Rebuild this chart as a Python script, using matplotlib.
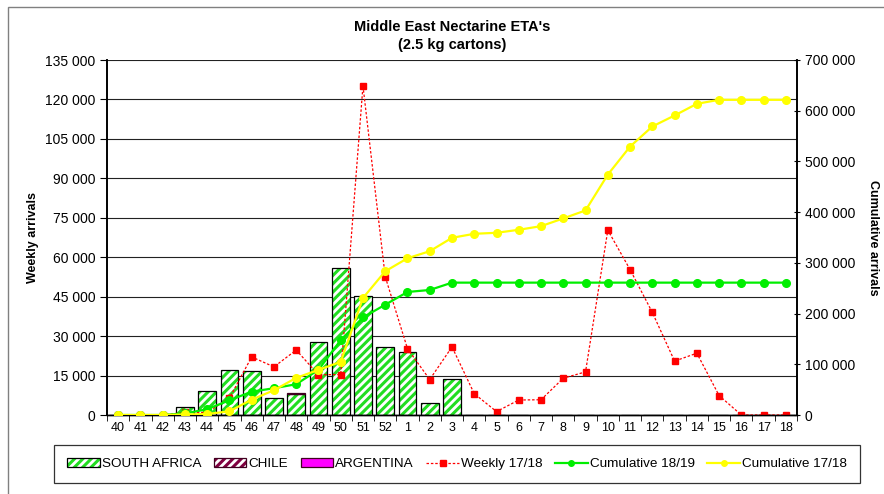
import numpy as np
import matplotlib.pyplot as plt
from matplotlib.patches import Patch, Rectangle
from matplotlib.lines import Line2D
from matplotlib.ticker import FuncFormatter, FixedLocator
from matplotlib.legend_handler import HandlerTuple

plt.rcParams['font.family'] = ['Liberation Sans', 'DejaVu Sans']
plt.rcParams['hatch.linewidth'] = 2.2

# Week numbers on the x axis
weeks = ["40", "41", "42", "43", "44", "45", "46", "47", "48", "49", "50", "51", "52",
         "1", "2", "3", "4", "5", "6", "7", "8", "9", "10", "11", "12", "13", "14",
         "15", "16", "17", "18"]

# Weekly arrivals per origin (left axis)
south_africa = [0, 0, 0, 3000, 9000, 17000, 16800, 6600, 8100, 27700, 56000, 45400, 25700,
                23900, 4500, 13600, 0, 0, 0, 0, 0, 0, 0, 0, 0, 0, 0, 0, 0, 0, 0]
chile = [0, 0, 0, 0, 0, 0, 0, 0, 300, 0, 0, 0, 0,
         0, 0, 0, 0, 0, 0, 0, 0, 0, 0, 0, 0, 0, 0, 0, 0, 0, 0]
argentina = [0] * 31

# Weekly 17/18 (left axis)
weekly_1718 = [0, 0, 0, 1000, 1000, 6400, 22100, 18300, 24700, 15300, 15400, 125200, 52600,
               25200, 13500, 25900, 8100, 1300, 5700, 5800, 14000, 16400, 70300, 55300,
               39000, 20500, 23500, 7400, 0, 0, 0]

# Cumulative series (right axis)
cum_1819 = [0, 0, 0, 3000, 11500, 29000, 46000, 52800, 60700, 89000, 147700, 192400, 217500,
            242600, 246500, 261000, 261000, 261000, 261000, 261000, 261000, 261000, 261000,
            261000, 261000, 261000, 261000, 261000, 261000, 261000, 261000]
cum_1718 = [0, 0, 0, 1000, 2000, 7300, 30300, 48800, 73200, 89000, 104800, 230700, 283400,
            309100, 323000, 349400, 357300, 359300, 365200, 372400, 387600, 403400, 474000,
            529300, 568900, 590600, 613600, 621500, 621500, 621500, 621500]

x = np.arange(len(weeks))
fmt = FuncFormatter(lambda v, p: "{:,}".format(int(v)).replace(",", " "))

fig = plt.figure(figsize=(8.84, 4.94), dpi=100)
ax = fig.add_axes([107 / 884, 1 - 415 / 494, 690 / 884, 355 / 494])
ax2 = ax.twinx()

# outer chart frame
fig.patches.append(Rectangle((8 / 884, -0.1), 1.2, 1 - 7 / 494 + 0.1, transform=fig.transFigure,
                             fill=False, edgecolor="#808080", linewidth=1.0))

# stacked bars
w = 0.8
ax.bar(x, south_africa, w, color="white", edgecolor="#22dd22", hatch="////", linewidth=0, zorder=2)
ax.bar(x, chile, w, bottom=south_africa, color="white", edgecolor="#800040", hatch="////",
       linewidth=0, zorder=2)
tot = np.array(south_africa) + np.array(chile)
ax.bar(x, argentina, w, bottom=tot, color="#ff00ff", linewidth=0, zorder=2)
ax.bar(x, np.array(south_africa), w, fill=False, edgecolor="black", linewidth=0.9, zorder=3)
mask = np.array(chile) > 0
ax.bar(x[mask], np.array(chile)[mask], w, bottom=np.array(south_africa)[mask], fill=False,
       edgecolor="#400020", linewidth=0.9, zorder=3)

ax.plot(x, weekly_1718, color="red", linestyle=(0, (2, 1.5)), linewidth=0.9,
        marker="s", markersize=5, zorder=4)

ax2.plot(x, cum_1819, color="#00ee00", linewidth=1.6, marker="o", markersize=5.5, zorder=4)
ax2.plot(x, cum_1718, color="#ffff00", linewidth=1.6, marker="o", markersize=5.5, zorder=5)

ax.set_xlim(-0.5, len(weeks) - 0.5)
ax.set_ylim(0, 135000)
ax2.set_ylim(0, 700000)
ax.set_yticks(np.arange(0, 135001, 15000))
ax2.set_yticks(np.arange(0, 700001, 100000))
ax.yaxis.set_major_formatter(fmt)
ax2.yaxis.set_major_formatter(fmt)
ax.grid(axis="y", color="#222222", linewidth=0.8, zorder=0)
ax.set_axisbelow(True)

ax.set_xticks(x)
ax.set_xticklabels(weeks)
ax.xaxis.set_minor_locator(FixedLocator(np.arange(-0.5, len(weeks), 1)))
ax.tick_params(axis="x", which="major", length=0, labelsize=9, pad=5)
ax.tick_params(axis="x", which="minor", length=4, direction="out")
ax.tick_params(axis="y", labelsize=10, length=5, direction="out")
ax2.tick_params(axis="y", labelsize=10, length=4, direction="inout")

for a in (ax, ax2):
    a.spines["top"].set_visible(False)
    a.spines["left"].set_linewidth(1.2)
    a.spines["right"].set_linewidth(1.2)
    a.spines["bottom"].set_linewidth(1.0)

ax.set_ylabel("Weekly arrivals", fontsize=9, fontweight="bold", labelpad=4)
ax2.set_ylabel("Cumulative arrivals", fontsize=9, fontweight="bold", rotation=-90, labelpad=17)
fig.text(452 / 884, 1 - 27 / 494, "Middle East Nectarine ETA's", ha="center", va="center",
         fontsize=10.5, fontweight="bold")
fig.text(452 / 884, 1 - 45 / 494, "(2.5 kg cartons)", ha="center", va="center",
         fontsize=10.5, fontweight="bold")

handles = [
    (Patch(facecolor="white", edgecolor="#22dd22", hatch="////", linewidth=0),
     Patch(fill=False, edgecolor="black", linewidth=0.9)),
    (Patch(facecolor="white", edgecolor="#800040", hatch="////", linewidth=0),
     Patch(fill=False, edgecolor="#400020", linewidth=0.9)),
    Patch(facecolor="#ff00ff", edgecolor="#400020", linewidth=0.9),
    Line2D([], [], color="red", linestyle=(0, (2, 1.5)), linewidth=0.9, marker="s", markersize=5),
    Line2D([], [], color="#00ee00", linewidth=1.6, marker="o", markersize=4),
    Line2D([], [], color="#ffff00", linewidth=1.6, marker="o", markersize=4),
]
labels = ["SOUTH AFRICA", "CHILE", "ARGENTINA", "Weekly 17/18", "Cumulative 18/19",
          "Cumulative 17/18"]
leg = fig.legend(handles, labels, loc="center", bbox_to_anchor=(457 / 884, 1 - 464 / 494),
                 ncol=6, fontsize=9.7, frameon=True, fancybox=False, edgecolor="black",
                 handlelength=2.4, handletextpad=0.15, columnspacing=0.95, borderpad=0.95,
                 handler_map={tuple: HandlerTuple(ndivide=1, pad=0)})
leg.get_frame().set_linewidth(0.9)

fig.savefig("out.png", dpi=100)
